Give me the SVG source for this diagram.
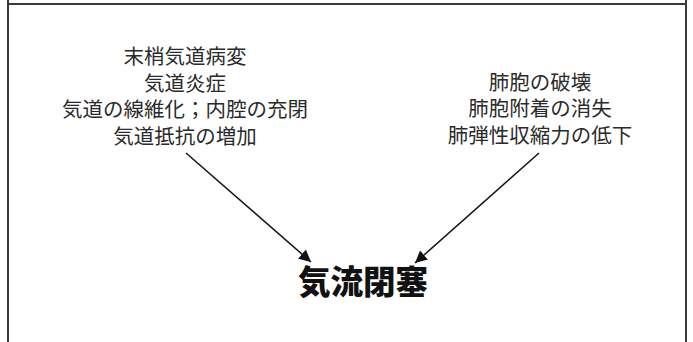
<svg xmlns="http://www.w3.org/2000/svg" width="693" height="342" viewBox="0 0 693 342">
<style>
.frame{stroke:#3a3a3a;stroke-width:2;fill:none}
.lbl{font-family:"Liberation Sans","Noto Sans CJK JP",sans-serif;font-size:20.5px;fill:#2a2a2a;text-anchor:middle}
.main{font-family:"Liberation Sans","Noto Sans CJK JP",sans-serif;font-size:32.5px;font-weight:900;fill:#111;text-anchor:middle}
.arrow{stroke:#111;stroke-width:1.5;fill:none;marker-end:url(#ah)}
</style>
<defs>
<marker id="ah" viewBox="0 0 10 10" refX="10" refY="5" markerWidth="12" markerHeight="12" markerUnits="userSpaceOnUse" orient="auto">
<path d="M0,0 L10,5 L0,10 z" fill="#111"/>
</marker>
</defs>
<rect width="693" height="342" fill="#fff"/>
<g id="frame">
<line class="frame" x1="8" y1="0" x2="8" y2="342"/>
<line class="frame" x1="686" y1="0" x2="686" y2="342"/>
<line class="frame" x1="8" y1="4" x2="686" y2="4"/>
</g>
<g id="node-airway">
<text class="lbl" x="185" y="64">末梢気道病変</text>
<text class="lbl" x="185" y="90.5">気道炎症</text>
<text class="lbl" x="185" y="117">気道の線維化；内腔の充閉</text>
<text class="lbl" x="185" y="143.5">気道抵抗の増加</text>
</g>
<g id="node-alveoli">
<text class="lbl" x="540" y="89.5">肺胞の破壊</text>
<text class="lbl" x="540" y="116">肺胞附着の消失</text>
<text class="lbl" x="540" y="142.5">肺弾性収縮力の低下</text>
</g>
<g id="node-obstruction">
<text class="main" x="363" y="294">気流閉塞</text>
</g>
<g id="connectors">
<line class="arrow" x1="186" y1="153" x2="311" y2="262"/>
<line class="arrow" x1="539" y1="153" x2="415" y2="263"/>
</g>
</svg>
